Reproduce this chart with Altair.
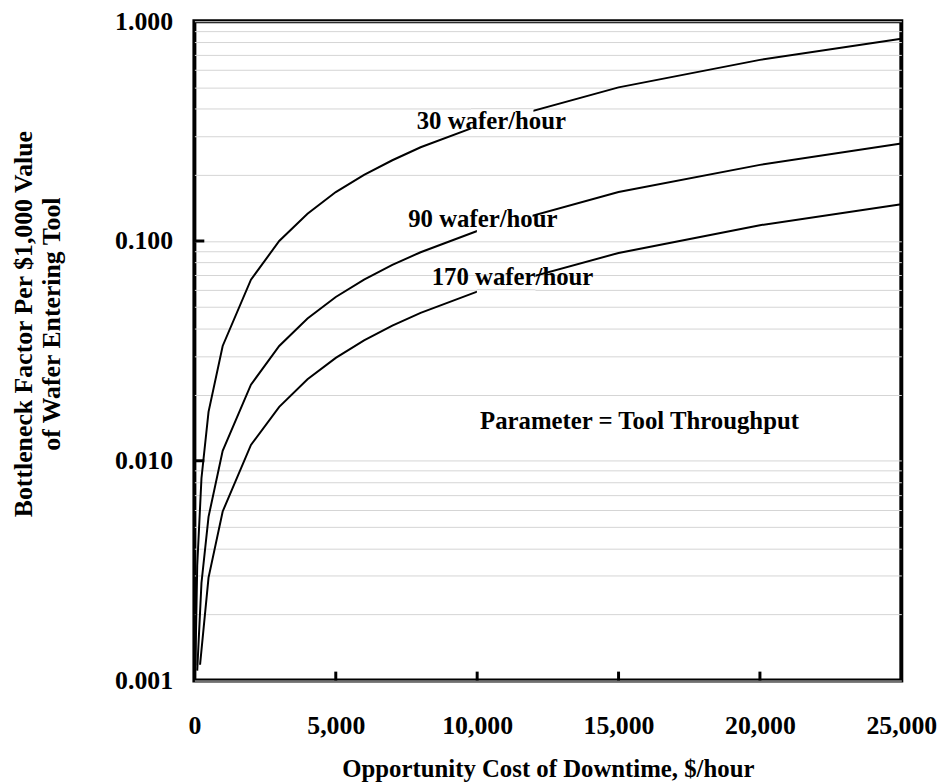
import altair as alt
import pandas as pd

# ---- data ----
x_30 = [35, 100, 250, 500, 1000, 2000, 3000, 4000, 5000, 6000, 7000, 8000, 10000, 15000, 20000, 25000]
y_30 = [0.00117, 0.00333, 0.00833, 0.0167, 0.0333, 0.0667, 0.100, 0.133, 0.167, 0.200, 0.233, 0.267,
        0.333, 0.500, 0.667, 0.833]
x_90 = [100, 250, 500, 1000, 2000, 3000, 4000, 5000, 6000, 7000, 8000, 10000, 15000, 20000, 25000]
y_90 = [0.00111, 0.00278, 0.00556, 0.0111, 0.0222, 0.0333, 0.0444, 0.0556, 0.0667, 0.0778, 0.0889,
        0.111, 0.167, 0.222, 0.278]
x_170 = [200, 500, 1000, 2000, 3000, 4000, 5000, 6000, 7000, 8000, 10000, 15000, 20000, 25000]
y_170 = [0.00118, 0.00294, 0.00588, 0.0118, 0.0176, 0.0235, 0.0294, 0.0353, 0.0412, 0.0471, 0.0588,
         0.0882, 0.118, 0.147]

x_tick_values = [0, 5000, 10000, 15000, 20000, 25000]
x_inner_ticks = [5000, 10000, 15000, 20000]
y_major = [0.001, 0.01, 0.1, 1.0]
y_minor = [0.002, 0.003, 0.004, 0.005, 0.006, 0.007, 0.008, 0.009,
           0.02, 0.03, 0.04, 0.05, 0.06, 0.07, 0.08, 0.09,
           0.2, 0.3, 0.4, 0.5, 0.6, 0.7, 0.8, 0.9]
y_inner_ticks = [0.01, 0.1]

label_text = ["30 wafer/hour", "90 wafer/hour", "170 wafer/hour", "Parameter = Tool Throughput"]
label_x = [10500, 10200, 11250, 15740]
label_y = [0.3226, 0.1157, 0.0630, 0.01398]

# white boxes behind the curve labels (they break the curves)
box_x = [9780, 9990, 9990]
box_x2 = [11990, 11960, 12060]
box_y = [0.306, 0.104, 0.0551]
box_y2 = [0.422, 0.139, 0.0744]

x_title = "Opportunity Cost of Downtime, $/hour"
y_title = ["Bottleneck Factor Per $1,000 Value", "of Wafer Entering Tool"]

FONT = "Liberation Serif"

# ---- tables ----
curves = pd.concat([
    pd.DataFrame({"x": x_30, "y": y_30, "s": "30"}),
    pd.DataFrame({"x": x_90, "y": y_90, "s": "90"}),
    pd.DataFrame({"x": x_170, "y": y_170, "s": "170"}),
])
labels = pd.DataFrame({"x": label_x, "y": label_y, "t": label_text})
boxes = pd.DataFrame({"x": box_x, "x2": box_x2, "y": box_y, "y2": box_y2})
all_grid = sorted(y_major + y_minor)
box_grid = pd.DataFrame([
    {"x": b.x, "x2": b.x2, "g": g}
    for b in boxes.itertuples() for g in all_grid if b.y < g < b.y2
])

xs = alt.Scale(domain=[0, 25000], nice=False, zero=False)
ys = alt.Scale(type="log", domain=[0.001, 1.0], nice=False)

x_axis = alt.Axis(
    values=x_tick_values, format=",d", title=x_title,
    labelFont=FONT, labelFontWeight="bold", labelFontSize=26, labelColor="black",
    titleFont=FONT, titleFontWeight="bold", titleFontSize=25, titleColor="black",
    ticks=False, tickSize=0, domain=False, grid=False, labelPadding=32, labelFlush=False,
    titleY=97, titleBaseline="alphabetic",
)
y_axis = alt.Axis(
    values=all_grid, title=y_title,
    labelExpr="(datum.value == 0.001 || datum.value == 0.01 || datum.value == 0.1 || datum.value == 1) ? format(datum.value, '.3f') : ''",
    labelFont=FONT, labelFontWeight="bold", labelFontSize=26, labelColor="black",
    titleFont=FONT, titleFontWeight="bold", titleFontSize=26, titleColor="black",
    ticks=False, tickSize=0, domain=False, grid=True, gridColor="#d4d4d4", gridWidth=1,
    labelPadding=22, labelFlush=False, titleAngle=270, titleX=-164, titleY=305, titleAlign="center",
    titleBaseline="alphabetic", titleLineHeight=28,
)

lines = alt.Chart(curves).mark_line(color="black", strokeWidth=2).encode(
    x=alt.X("x:Q", scale=xs, axis=x_axis),
    y=alt.Y("y:Q", scale=ys, axis=y_axis),
    detail="s:N",
)

box_layer = alt.Chart(boxes).mark_rect(color="white").encode(
    x="x:Q", x2="x2:Q", y="y:Q", y2="y2:Q",
)

box_grid_layer = alt.Chart(box_grid).mark_rule(color="#d4d4d4", strokeWidth=1).encode(
    x="x:Q", x2="x2:Q", y="g:Q",
)

ytick_layer = alt.Chart(pd.DataFrame({"v": y_inner_ticks})).mark_rule(color="black", strokeWidth=3).encode(
    y="v:Q", x=alt.value(0), x2=alt.value(10),
)
xtick_layer = alt.Chart(pd.DataFrame({"t": x_inner_ticks})).mark_rule(color="black", strokeWidth=3).encode(
    x="t:Q", y=alt.value(665), y2=alt.value(656),
)

text_layer = alt.Chart(labels).mark_text(
    font=FONT, fontWeight="bold", fontSize=25, align="center", baseline="alphabetic", color="black"
).encode(x="x:Q", y="y:Q", text="t:N")

chart = alt.layer(
    lines, box_layer, box_grid_layer, ytick_layer, xtick_layer, text_layer
).properties(
    width=713, height=665,
    autosize=alt.AutoSizeParams(type="none"),
    padding={"left": 188, "top": 10, "right": 37, "bottom": 99},
    background="white",
).configure_view(stroke="black", strokeWidth=4)

chart.save("out.html", embed_options={"renderer": "svg", "actions": False})
